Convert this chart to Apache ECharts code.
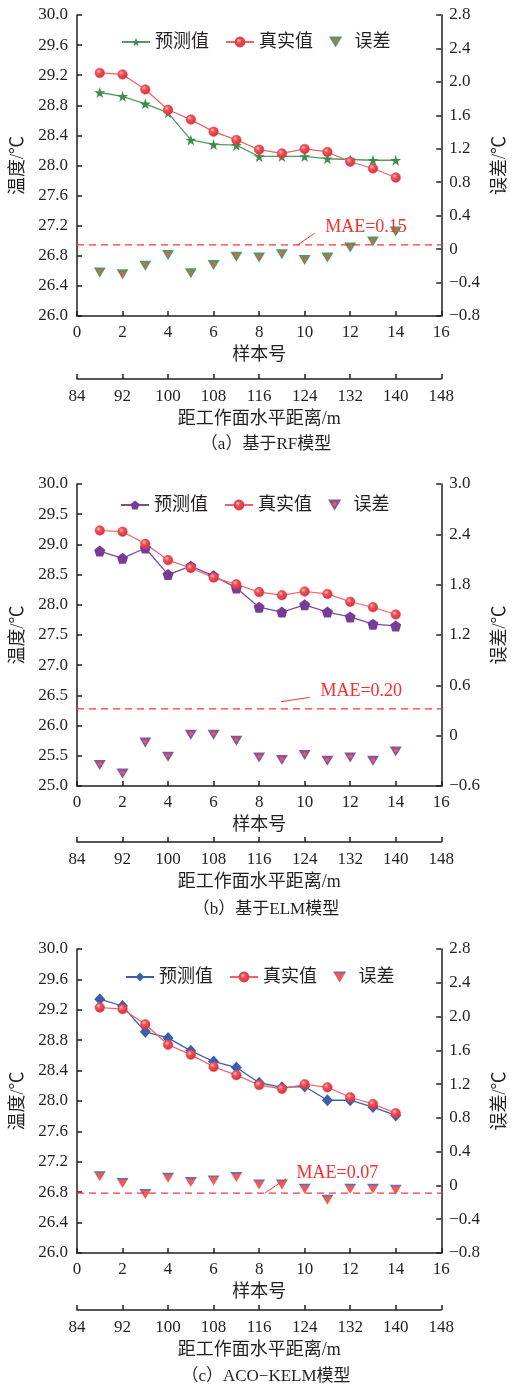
<!DOCTYPE html>
<html>
<head>
<meta charset="utf-8">
<script src="https://cdn.jsdelivr.net/npm/echarts@6/dist/echarts.min.js"></script>
<style>
  html, body { margin: 0; padding: 0; background: #fff; }
  .panel { position: absolute; left: 0; width: 517px; }
</style>
</head>
<body>
<div id="pa" class="panel" style="top:0;height:462px"></div>
<div id="pb" class="panel" style="top:462px;height:462px"></div>
<div id="pc" class="panel" style="top:924px;height:463px"></div>
<script>
// Sample numbers and measured temperatures (℃), shared by all three models
const samples = [1, 2, 3, 4, 5, 6, 7, 8, 9, 10, 11, 12, 13, 14];
const realTemp = [29.23, 29.21, 29.01, 28.74, 28.61, 28.45, 28.34, 28.21, 28.16, 28.22, 28.18, 28.05, 27.96, 27.84];

// RF model
const rfPred = [28.97, 28.92, 28.82, 28.70, 28.34, 28.28, 28.27, 28.12, 28.12, 28.12, 28.09, 28.08, 28.07, 28.07];
const rfErr = [-0.28, -0.30, -0.20, -0.07, -0.29, -0.19, -0.09, -0.10, -0.06, -0.13, -0.10, 0.02, 0.09, 0.21];
const rfMae = 0.15;

// ELM model
const elmPred = [28.89, 28.77, 28.94, 28.50, 28.64, 28.48, 28.28, 27.96, 27.88, 28.00, 27.88, 27.80, 27.68, 27.65];
const elmErr = [-0.35, -0.45, -0.08, -0.25, 0.01, 0.01, -0.06, -0.26, -0.29, -0.23, -0.30, -0.26, -0.30, -0.19];
const elmMae = 0.20;

// ACO-KELM model
const kelmPred = [29.34, 29.25, 28.91, 28.83, 28.66, 28.52, 28.44, 28.24, 28.18, 28.19, 28.01, 28.01, 27.92, 27.81];
const kelmErr = [0.11, 0.03, -0.10, 0.09, 0.04, 0.06, 0.10, 0.01, 0.01, -0.04, -0.17, -0.04, -0.04, -0.05];
const kelmMae = 0.07;

// Axis ranges
const sampleAxis = { min: 0, max: 16, interval: 2 };
const distAxis = { min: 84, max: 148, interval: 8 };

const INK = '#231f20';
const MAE_RED = '#ff3535';
const SERIF = '"Liberation Serif", "Noto Sans CJK SC", serif';
const STAR = 'path://M50,0 L61,35 L98,35 L68,57 L79,91 L50,70 L21,91 L32,57 L2,35 L39,35 Z';
const PENTAGON = 'path://M50,0 L97,34 L79,90 L21,90 L3,34 Z';
const TRI_DOWN = 'path://M0,0 L12,0 L6,10 Z';

const leftFmt = v => v.toFixed(1);
const rightFmt = v => Math.abs(v) < 1e-9 ? '0' : (v < 0 ? '\u2212' + (-v).toFixed(1) : v.toFixed(1));

function ballColor() {
  return {
    type: 'radial', x: 0.38, y: 0.35, r: 0.65,
    colorStops: [
      { offset: 0, color: '#ffc2c4' },
      { offset: 0.35, color: '#f0525a' },
      { offset: 1, color: '#d92f3a' }
    ]
  };
}

function spotColor(outer, inner, cy) {
  return {
    type: 'radial', x: 0.5, y: cy, r: 0.5,
    colorStops: [
      { offset: 0, color: inner },
      { offset: 0.3, color: inner },
      { offset: 0.4, color: outer },
      { offset: 1, color: outer }
    ]
  };
}

function buildPanel(el, p) {
  const chart = echarts.init(el, null, { renderer: 'canvas' });
  const axisLine = { show: true, onZero: false, lineStyle: { color: INK, width: 1.5 } };
  const axisTick = { show: true, inside: true, length: 5, lineStyle: { color: INK, width: 1.5 } };
  const tickLabel = { color: INK, fontFamily: SERIF, fontSize: 17 };
  const nameStyle = { color: INK, fontFamily: SERIF, fontSize: 18 };

  const option = {
    animation: false,
    backgroundColor: '#fff',
    grid: { left: 77, top: p.gridTop, width: 377, height: p.gridHeight, containLabel: false },
    legend: {
      left: p.legendLeft, top: p.legendTop,
      itemWidth: 28, itemHeight: 11, itemGap: 16,
      textStyle: { color: INK, fontFamily: SERIF, fontSize: 18 },
      data: ['预测值', '真实值', '误差']
    },
    xAxis: [
      {
        type: 'value', min: sampleAxis.min, max: sampleAxis.max, interval: sampleAxis.interval,
        position: 'bottom',
        name: '样本号', nameLocation: 'middle', nameGap: 30, nameTextStyle: nameStyle,
        axisLine, axisTick, splitLine: { show: false },
        axisLabel: Object.assign({ margin: 8 }, tickLabel)
      },
      {
        type: 'value', min: distAxis.min, max: distAxis.max, interval: distAxis.interval,
        position: 'bottom', offset: p.distOffset,
        name: '距工作面水平距离/m', nameLocation: 'middle', nameGap: 31, nameTextStyle: nameStyle,
        axisLine, axisTick, splitLine: { show: false },
        axisLabel: Object.assign({ margin: 9 }, tickLabel)
      }
    ],
    yAxis: [
      {
        type: 'value', min: p.left.min, max: p.left.max, interval: p.left.interval,
        position: 'left',
        name: '温度/℃', nameLocation: 'middle', nameRotate: 90, nameGap: 46, nameTextStyle: nameStyle,
        axisLine, axisTick, splitLine: { show: false },
        axisLabel: Object.assign({ margin: 9, formatter: leftFmt }, tickLabel)
      },
      {
        type: 'value', min: p.right.min, max: p.right.max, interval: p.right.interval,
        position: 'right',
        name: '误差/℃', nameLocation: 'middle', nameRotate: 90, nameGap: 42, nameTextStyle: nameStyle,
        axisLine, axisTick, splitLine: { show: false },
        axisLabel: Object.assign({ margin: 8, formatter: rightFmt }, tickLabel)
      }
    ],
    // panel caption, centred under the plot area
    graphic: [{
      type: 'text', x: 266, y: p.captionTop,
      style: { text: p.caption, fill: INK, font: '17px ' + SERIF, textAlign: 'center', textVerticalAlign: 'middle' }
    }],
    series: [
      // dashed MAE reference line across the plot (not listed in the legend)
      {
        name: 'MAE', type: 'line', xAxisIndex: 0, yAxisIndex: 1,
        data: [[sampleAxis.min, p.maeLine], [sampleAxis.max, p.maeLine]],
        symbol: 'none', silent: true, z: 1,
        lineStyle: { color: MAE_RED, type: [7, 5], width: 1.3 }
      },
      {
        name: '预测值', type: 'line', xAxisIndex: 0, yAxisIndex: 0,
        data: samples.map((s, i) => [s, p.pred[i]]),
        symbol: p.predSymbol, symbolSize: p.predSize,
        lineStyle: { color: p.predLine, width: 1.3 },
        itemStyle: { color: p.predColor }
      },
      {
        name: '真实值', type: 'line', xAxisIndex: 0, yAxisIndex: 0,
        data: samples.map((s, i) => [s, realTemp[i]]),
        symbol: 'circle', symbolSize: 9.5,
        lineStyle: { color: '#f26066', width: 1.2 },
        itemStyle: { color: ballColor(), borderColor: '#e23f47', borderWidth: 0.6 }
      },
      {
        name: '误差', type: 'scatter', xAxisIndex: 0, yAxisIndex: 1,
        data: samples.map((s, i) => [s, p.err[i]]),
        symbol: TRI_DOWN, symbolSize: [12, 10],
        itemStyle: { color: p.errColor },
        markLine: {
          silent: true, symbol: ['none', 'none'],
          label: { show: false },
          lineStyle: { color: MAE_RED, width: 1, type: 'solid', opacity: 1 },
          data: [
            // leader to the MAE label
            [
              { coord: p.leader[0], lineStyle: { color: MAE_RED, type: 'solid', width: 1 } },
              { coord: p.leader[1] }
            ]
          ]
        },
        markPoint: {
          silent: true, symbol: 'circle', symbolSize: 1,
          itemStyle: { color: 'rgba(0,0,0,0)' },
          data: [{
            coord: p.leader[1],
            label: {
              show: true, position: 'right', distance: 10, offset: [0, -6],
              formatter: 'MAE=' + p.mae.toFixed(2),
              color: '#ff2a2a', fontFamily: SERIF, fontSize: 18
            }
          }]
        }
      }
    ]
  };
  chart.setOption(option);
  return chart;
}

buildPanel(document.getElementById('pa'), {
  gridTop: 15, gridHeight: 301, distOffset: 63,
  legendLeft: 116, legendTop: 28, captionTop: 445,
  caption: '（a）基于RF模型',
  left: { min: 26, max: 30, interval: 0.4 },
  right: { min: -0.8, max: 2.8, interval: 0.4 },
  pred: rfPred, err: rfErr, mae: rfMae,
  predSymbol: STAR, predSize: 11, predLine: '#4e9c5e', predColor: '#3d8b4d',
  errColor: spotColor('#2f7d3b', '#e0302e', 0.4),
  maeLine: 0.05, leader: [[9.68, 0.048], [10.44, 0.19]]
});

buildPanel(document.getElementById('pb'), {
  gridTop: 22, gridHeight: 302, distOffset: 56,
  legendLeft: 115, legendTop: 29, captionTop: 448,
  caption: '（b）基于ELM模型',
  left: { min: 25, max: 30, interval: 0.5 },
  right: { min: -0.6, max: 3.0, interval: 0.6 },
  pred: elmPred, err: elmErr, mae: elmMae,
  predSymbol: PENTAGON, predSize: 11, predLine: '#7d4a9e', predColor: '#773c98',
  errColor: spotColor('#6a2a86', '#e0302e', 0.4),
  maeLine: 0.32, leader: [[8.96, 0.405], [10.23, 0.457]]
});

buildPanel(document.getElementById('pc'), {
  gridTop: 25, gridHeight: 304, distOffset: 57,
  legendLeft: 120, legendTop: 39, captionTop: 453,
  caption: '（c）ACO\u2212KELM模型',
  left: { min: 26, max: 30, interval: 0.4 },
  right: { min: -0.8, max: 2.8, interval: 0.4 },
  pred: kelmPred, err: kelmErr, mae: kelmMae,
  predSymbol: 'diamond', predSize: [11, 12], predLine: '#3d5da8', predColor: '#3b5fae',
  errColor: {
    type: 'linear', x: 0, y: 0, x2: 0, y2: 1,
    colorStops: [
      { offset: 0, color: '#3a4f9a' }, { offset: 0.14, color: '#3a4f9a' },
      { offset: 0.2, color: '#ee2f2f' }, { offset: 1, color: '#ee2f2f' }
    ]
  },
  maeLine: -0.09, leader: [[8.26, -0.087], [9.18, 0.079]]
});
</script>
</body>
</html>
